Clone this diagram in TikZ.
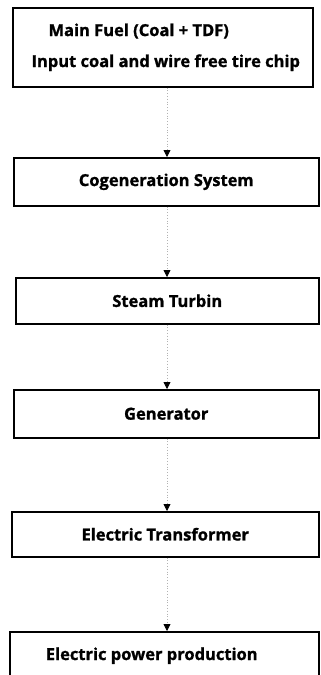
\documentclass[tikz,border=0pt]{standalone}
\usepackage{fontspec}
\setmainfont{Open Sans}[FakeBold=1.2]
\usetikzlibrary{arrows.meta}
\tikzset{
  box/.style={draw=black, line width=1.5pt, inner sep=0pt, anchor=north west,
    font=\bfseries\fontsize{16.5pt}{22pt}\selectfont, text=black},
  conn/.style={draw=gray!60, dotted, line width=0.8pt,
    -{Triangle[length=7pt,width=7pt,fill=black,color=black]}}
}
\begin{document}
\begin{tikzpicture}[x=1pt,y=-1pt]
\useasboundingbox (0,0) rectangle (321,675);
\clip (0,0) rectangle (321,675);
\node[box, minimum width=300pt, minimum height=79pt, align=left] (b1) at (12,7)
  {\hspace*{23pt}Main Fuel (Coal + TDF)\\[9pt]\hspace*{6pt}Input coal and wire free tire chip};
\node[box, minimum width=305pt, minimum height=48pt] (b2) at (13,157) {Cogeneration System};
\node[box, minimum width=303pt, minimum height=46pt] (b3) at (15,277) {Steam Turbin};
\node[box, minimum width=305pt, minimum height=48pt] (b4) at (13,389) {Generator};
\node[box, minimum width=307pt, minimum height=45pt] (b5) at (11,511) {Electric Transformer};
\node[box, minimum width=309pt, minimum height=52pt, text depth=8pt] (b6) at (9,631) {\hspace*{-25pt}Electric power production};
\coordinate (ax) at (167,0);
\draw[conn] (b1.south -| ax) -- (b2.north -| ax);
\draw[conn] (b2.south -| ax) -- (b3.north -| ax);
\draw[conn] (b3.south -| ax) -- (b4.north -| ax);
\draw[conn] (b4.south -| ax) -- (b5.north -| ax);
\draw[conn] (b5.south -| ax) -- (b6.north -| ax);
\end{tikzpicture}
\end{document}
